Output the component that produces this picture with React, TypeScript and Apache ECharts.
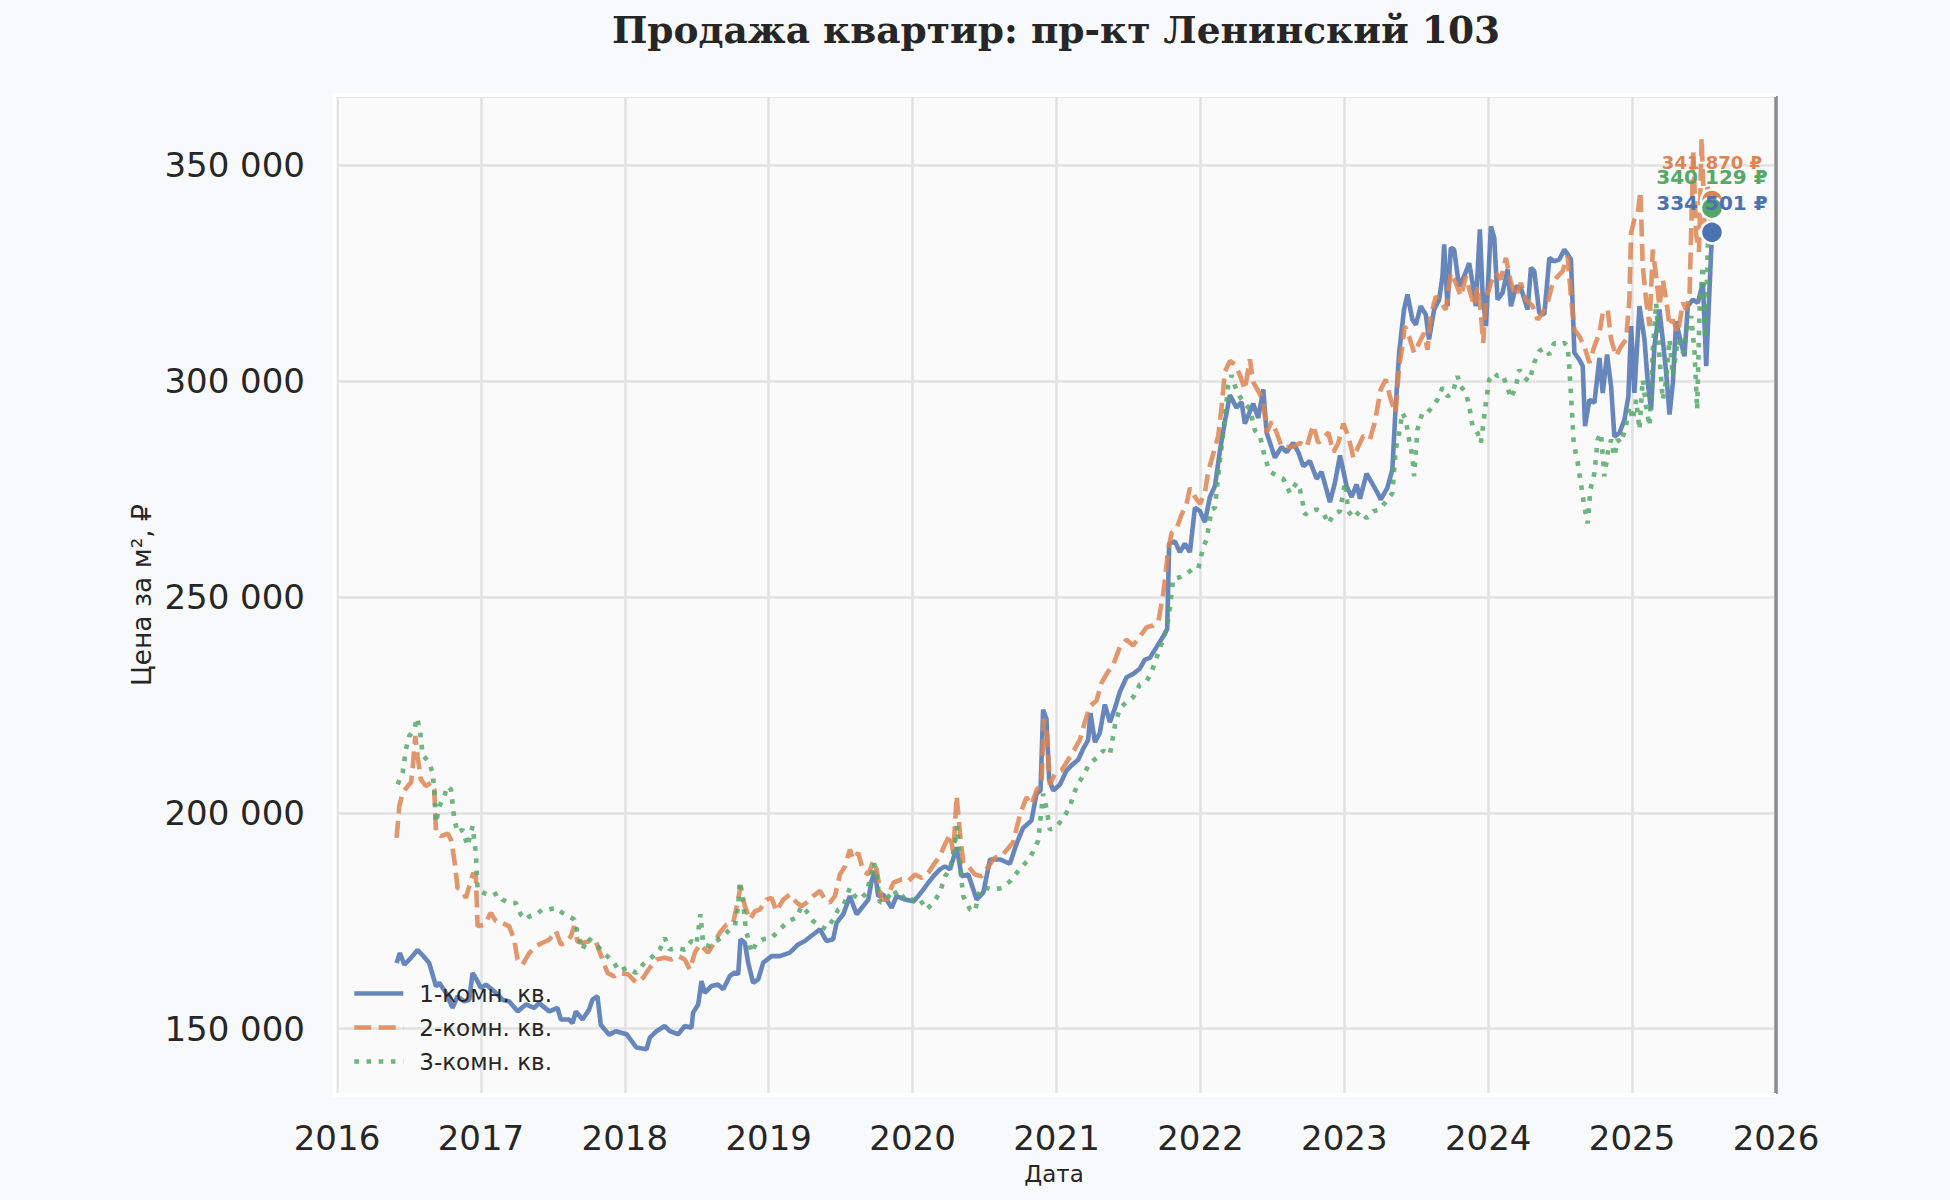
import * as echarts from 'echarts'
import React, { useEffect, useRef } from 'react'

const seriesNames = ['1-комн. кв.', '2-комн. кв.', '3-комн. кв.']
const colors = ['#4c72b0', '#dd8452', '#55a868']

// [год (дробный), цена за м²]
const oneRoom: [number, number][] = [
  [2016.414, 165200], [2016.437, 167500], [2016.468, 164800], [2016.514, 166400],
  [2016.56, 168200], [2016.595, 167000], [2016.641, 165200], [2016.688, 159800],
  [2016.711, 160600], [2016.757, 158300], [2016.803, 154800], [2016.838, 157500],
  [2016.884, 156300], [2016.919, 156700], [2016.942, 162900], [2016.965, 161700],
  [2017.0, 159400], [2017.035, 160200], [2017.104, 158300], [2017.15, 156700],
  [2017.197, 156300], [2017.255, 154000], [2017.313, 155600], [2017.37, 154800],
  [2017.405, 155900], [2017.475, 154000], [2017.532, 154800], [2017.556, 152100],
  [2017.613, 152100], [2017.637, 151300], [2017.66, 154000], [2017.706, 152100],
  [2017.752, 154400], [2017.775, 156700], [2017.81, 157500], [2017.833, 150900],
  [2017.891, 148600], [2017.938, 149400], [2018.012, 148700], [2018.081, 145600],
  [2018.151, 145200], [2018.174, 147900], [2018.22, 149400], [2018.278, 150600],
  [2018.313, 149400], [2018.371, 148700], [2018.417, 150600], [2018.463, 150200],
  [2018.475, 153700], [2018.51, 155600], [2018.533, 161000], [2018.556, 158300],
  [2018.603, 159900], [2018.649, 160200], [2018.684, 159100], [2018.73, 162200],
  [2018.765, 163000], [2018.788, 162600], [2018.804, 170700], [2018.834, 169900],
  [2018.857, 165300], [2018.892, 160600], [2018.927, 161400], [2018.962, 165300],
  [2019.02, 166800], [2019.078, 166800], [2019.147, 167600], [2019.205, 169500],
  [2019.251, 170300], [2019.309, 171800], [2019.356, 173000], [2019.402, 170300],
  [2019.448, 170700], [2019.472, 174500], [2019.518, 176500], [2019.564, 180700],
  [2019.611, 176500], [2019.657, 178400], [2019.692, 179900], [2019.715, 184200],
  [2019.738, 186500], [2019.761, 180700], [2019.796, 181100], [2019.854, 178000],
  [2019.889, 180700], [2019.947, 179900], [2020.005, 179500], [2020.039, 180700],
  [2020.074, 182200], [2020.109, 183800], [2020.155, 185700], [2020.19, 186900],
  [2020.225, 187600], [2020.26, 186900], [2020.306, 192000], [2020.341, 185300],
  [2020.387, 185700], [2020.445, 179900], [2020.491, 181500], [2020.538, 189200],
  [2020.607, 189200], [2020.676, 188200], [2020.722, 192800], [2020.768, 196500],
  [2020.826, 198200], [2020.861, 204400], [2020.889, 205200], [2020.907, 223900],
  [2020.93, 221800], [2020.949, 207700], [2020.977, 205200], [2021.023, 206500],
  [2021.07, 209800], [2021.104, 211000], [2021.151, 212300], [2021.185, 214800],
  [2021.22, 216900], [2021.236, 223100], [2021.267, 216400], [2021.301, 218500],
  [2021.336, 225100], [2021.371, 221000], [2021.406, 224300], [2021.44, 228000],
  [2021.487, 231400], [2021.533, 232200], [2021.579, 233400], [2021.614, 235500],
  [2021.649, 235900], [2021.695, 238400], [2021.742, 240900], [2021.769, 242600],
  [2021.783, 262400], [2021.823, 262900], [2021.857, 260400], [2021.892, 262400],
  [2021.927, 260400], [2021.962, 270700], [2021.997, 269900], [2022.031, 267400],
  [2022.066, 273200], [2022.101, 275700], [2022.136, 284000], [2022.17, 290600],
  [2022.205, 296800], [2022.251, 293900], [2022.286, 295200], [2022.309, 290200],
  [2022.367, 294800], [2022.402, 291500], [2022.437, 298100], [2022.46, 288100],
  [2022.518, 282300], [2022.564, 284800], [2022.599, 283600], [2022.645, 285700],
  [2022.68, 283600], [2022.715, 280300], [2022.761, 281500], [2022.808, 277400],
  [2022.842, 279000], [2022.9, 272000], [2022.935, 276500], [2022.97, 282800],
  [2023.016, 275700], [2023.051, 273200], [2023.086, 276100], [2023.109, 272800],
  [2023.155, 278600], [2023.225, 274500], [2023.253, 272600], [2023.299, 275300],
  [2023.334, 279500], [2023.357, 294200], [2023.381, 306600], [2023.415, 316600],
  [2023.439, 320100], [2023.473, 314300], [2023.497, 313100], [2023.531, 317400],
  [2023.566, 315500], [2023.589, 309700], [2023.624, 316600], [2023.659, 318900],
  [2023.682, 324300], [2023.694, 331700], [2023.717, 317400], [2023.74, 330900],
  [2023.763, 330500], [2023.798, 322000], [2023.833, 324300], [2023.868, 327400],
  [2023.891, 322800], [2023.914, 317400], [2023.942, 335200], [2023.961, 320500],
  [2023.984, 312800], [2024.019, 335900], [2024.042, 333200], [2024.065, 318900],
  [2024.1, 320500], [2024.135, 325900], [2024.158, 317400], [2024.193, 322000],
  [2024.227, 321600], [2024.274, 316600], [2024.297, 326300], [2024.32, 325500],
  [2024.355, 315800], [2024.39, 315500], [2024.425, 328600], [2024.459, 327800],
  [2024.494, 328200], [2024.529, 330500], [2024.552, 329400], [2024.575, 328200],
  [2024.599, 306600], [2024.633, 305000], [2024.657, 303500], [2024.673, 289600],
  [2024.703, 295700], [2024.738, 295000], [2024.773, 305400], [2024.796, 297300],
  [2024.826, 306200], [2024.854, 298800], [2024.877, 287200], [2024.912, 288000],
  [2024.947, 291100], [2024.974, 296500], [2024.993, 312800], [2025.016, 297300],
  [2025.051, 317400], [2025.086, 309700], [2025.109, 299600], [2025.132, 293400],
  [2025.155, 308100], [2025.19, 316600], [2025.213, 309700], [2025.237, 301900],
  [2025.26, 292300], [2025.283, 299600], [2025.306, 313900], [2025.329, 310400],
  [2025.364, 305800], [2025.387, 317400], [2025.422, 318900], [2025.457, 318200],
  [2025.492, 322800], [2025.515, 303500], [2025.555, 334501],
]

const twoRoom: [number, number][] = [
  [2016.414, 194200], [2016.433, 201500], [2016.456, 204600], [2016.491, 206200],
  [2016.514, 207000], [2016.525, 210000], [2016.544, 217800], [2016.56, 213100],
  [2016.583, 207700], [2016.618, 206200], [2016.653, 207000], [2016.676, 205400],
  [2016.688, 195400], [2016.722, 194600], [2016.769, 195200], [2016.792, 193800],
  [2016.815, 189200], [2016.838, 182600], [2016.861, 182200], [2016.896, 180300],
  [2016.919, 183000], [2016.947, 186100], [2016.965, 185300], [2016.977, 173700],
  [2017.023, 174100], [2017.069, 176800], [2017.104, 174900], [2017.15, 174500],
  [2017.197, 173700], [2017.231, 170600], [2017.255, 166000], [2017.289, 164800],
  [2017.336, 167500], [2017.382, 169100], [2017.428, 169900], [2017.475, 170600],
  [2017.521, 172600], [2017.556, 169500], [2017.59, 169900], [2017.625, 171400],
  [2017.648, 173700], [2017.671, 170200], [2017.706, 169900], [2017.752, 170200],
  [2017.799, 170200], [2017.845, 166000], [2017.88, 162900], [2017.926, 162100],
  [2017.961, 162900], [2018.023, 162600], [2018.081, 160600], [2018.127, 161800],
  [2018.174, 164100], [2018.22, 166000], [2018.278, 166400], [2018.324, 166000],
  [2018.371, 166800], [2018.417, 166000], [2018.452, 163700], [2018.487, 167600],
  [2018.521, 169500], [2018.579, 167600], [2018.614, 169500], [2018.66, 172200],
  [2018.707, 174100], [2018.753, 174500], [2018.788, 179900], [2018.804, 183000],
  [2018.834, 178400], [2018.869, 175300], [2018.904, 177200], [2018.939, 177600],
  [2018.985, 179900], [2019.02, 180300], [2019.054, 177200], [2019.101, 179900],
  [2019.147, 181100], [2019.194, 179200], [2019.228, 178400], [2019.263, 179200],
  [2019.309, 180700], [2019.356, 181900], [2019.391, 179900], [2019.425, 179200],
  [2019.46, 180700], [2019.495, 185700], [2019.53, 187600], [2019.564, 191500],
  [2019.587, 189200], [2019.622, 190700], [2019.657, 186500], [2019.692, 185700],
  [2019.727, 188800], [2019.75, 186900], [2019.784, 179900], [2019.819, 179900],
  [2019.866, 183800], [2019.924, 184600], [2019.97, 184200], [2020.016, 185700],
  [2020.063, 184900], [2020.109, 186100], [2020.155, 188400], [2020.19, 190000],
  [2020.225, 192700], [2020.26, 195000], [2020.283, 190700], [2020.306, 203900],
  [2020.329, 195400], [2020.352, 188400], [2020.387, 187600], [2020.433, 185700],
  [2020.48, 185300], [2020.526, 187600], [2020.572, 189600], [2020.619, 190000],
  [2020.699, 193200], [2020.745, 199400], [2020.791, 203600], [2020.826, 201900],
  [2020.861, 205200], [2020.896, 206900], [2020.912, 221800], [2020.935, 217700],
  [2020.954, 206500], [2020.988, 209000], [2021.035, 209800], [2021.081, 212300],
  [2021.127, 214800], [2021.162, 216900], [2021.197, 221000], [2021.232, 224700],
  [2021.278, 226000], [2021.313, 230100], [2021.348, 232200], [2021.394, 234300],
  [2021.44, 238400], [2021.487, 240100], [2021.533, 238800], [2021.579, 240900],
  [2021.626, 243000], [2021.672, 243400], [2021.707, 244200], [2021.742, 250800],
  [2021.776, 260800], [2021.8, 264900], [2021.834, 265800], [2021.869, 269100],
  [2021.904, 271600], [2021.927, 275300], [2021.962, 273200], [2021.997, 271600],
  [2022.031, 274100], [2022.054, 279000], [2022.089, 283200], [2022.124, 287300],
  [2022.147, 293900], [2022.17, 302200], [2022.205, 304700], [2022.24, 303900],
  [2022.275, 301400], [2022.309, 298100], [2022.344, 305100], [2022.367, 299800],
  [2022.402, 297700], [2022.437, 295600], [2022.46, 288100], [2022.495, 290600],
  [2022.53, 288100], [2022.564, 284800], [2022.599, 284800], [2022.645, 284800],
  [2022.692, 285700], [2022.738, 284800], [2022.784, 289800], [2022.819, 285700],
  [2022.854, 286900], [2022.889, 288100], [2022.924, 283600], [2022.958, 285700],
  [2022.993, 290200], [2023.028, 287300], [2023.063, 282300], [2023.097, 284800],
  [2023.132, 287300], [2023.178, 286500], [2023.213, 290600], [2023.253, 298100],
  [2023.288, 300400], [2023.323, 295700], [2023.357, 292700], [2023.381, 303500],
  [2023.404, 308100], [2023.42, 312800], [2023.45, 310400], [2023.485, 306600],
  [2023.52, 308900], [2023.555, 311200], [2023.578, 307300], [2023.601, 315100],
  [2023.636, 319700], [2023.671, 318200], [2023.705, 316600], [2023.74, 325100],
  [2023.775, 322800], [2023.81, 319700], [2023.845, 324300], [2023.868, 321300],
  [2023.903, 317400], [2023.926, 322000], [2023.949, 315800], [2023.965, 308900],
  [2023.984, 318900], [2024.019, 322800], [2024.053, 325100], [2024.088, 323600],
  [2024.123, 328600], [2024.158, 322800], [2024.193, 319700], [2024.227, 322800],
  [2024.262, 318900], [2024.309, 317400], [2024.343, 314300], [2024.378, 315800],
  [2024.413, 318200], [2024.448, 322800], [2024.483, 324300], [2024.517, 325500],
  [2024.552, 329000], [2024.575, 319700], [2024.599, 312000], [2024.633, 310400],
  [2024.668, 308100], [2024.703, 304300], [2024.738, 308100], [2024.773, 311200],
  [2024.796, 315800], [2024.831, 316600], [2024.854, 309700], [2024.889, 305800],
  [2024.923, 308100], [2024.958, 309700], [2024.981, 318900], [2024.993, 334400],
  [2025.016, 337500], [2025.039, 339000], [2025.058, 344000], [2025.074, 326700],
  [2025.097, 318900], [2025.121, 312800], [2025.144, 330500], [2025.167, 324300],
  [2025.19, 317400], [2025.213, 323600], [2025.237, 318900], [2025.26, 312800],
  [2025.283, 314300], [2025.318, 311200], [2025.353, 318200], [2025.376, 316600],
  [2025.399, 319700], [2025.425, 353600], [2025.445, 334000], [2025.465, 330000],
  [2025.483, 356300], [2025.505, 335000], [2025.525, 345000], [2025.555, 341870],
]

const threeRoom: [number, number][] = [
  [2016.421, 206600], [2016.456, 209300], [2016.479, 214700], [2016.502, 217800],
  [2016.537, 219300], [2016.556, 222000], [2016.576, 219300], [2016.595, 213500],
  [2016.641, 211600], [2016.664, 209300], [2016.676, 205400], [2016.688, 197700],
  [2016.711, 201500], [2016.745, 203900], [2016.769, 206200], [2016.792, 205400],
  [2016.815, 198500], [2016.838, 195400], [2016.873, 196100], [2016.907, 192300],
  [2016.942, 196900], [2016.965, 190700], [2016.977, 182200], [2017.023, 181400],
  [2017.069, 180700], [2017.116, 181400], [2017.15, 179900], [2017.197, 179100],
  [2017.243, 179100], [2017.278, 176400], [2017.313, 175300], [2017.336, 176000],
  [2017.382, 176400], [2017.428, 177600], [2017.475, 177600], [2017.521, 178000],
  [2017.567, 176800], [2017.613, 176000], [2017.648, 175300], [2017.671, 172200],
  [2017.706, 168300], [2017.741, 171000], [2017.787, 169900], [2017.822, 168700],
  [2017.868, 167100], [2017.926, 165200], [2017.961, 163300], [2018.012, 164100],
  [2018.081, 162900], [2018.127, 164900], [2018.197, 166800], [2018.243, 168300],
  [2018.278, 171000], [2018.313, 168300], [2018.359, 168700], [2018.417, 168300],
  [2018.463, 170300], [2018.498, 169500], [2018.526, 176500], [2018.545, 169500],
  [2018.591, 169100], [2018.637, 170300], [2018.684, 171400], [2018.73, 173000],
  [2018.765, 173800], [2018.788, 178400], [2018.8, 184200], [2018.823, 179200],
  [2018.841, 173000], [2018.881, 167600], [2018.915, 169900], [2018.962, 170700],
  [2019.02, 171000], [2019.078, 173000], [2019.136, 174900], [2019.194, 175700],
  [2019.228, 178400], [2019.263, 177200], [2019.309, 174900], [2019.356, 173800],
  [2019.402, 173000], [2019.448, 175300], [2019.483, 177600], [2019.518, 178400],
  [2019.564, 182600], [2019.599, 180700], [2019.634, 179900], [2019.68, 181500],
  [2019.715, 186100], [2019.731, 188400], [2019.75, 185700], [2019.773, 179200],
  [2019.819, 179900], [2019.866, 182200], [2019.912, 179900], [2019.958, 181100],
  [2020.005, 179500], [2020.051, 179900], [2020.097, 177600], [2020.144, 179200],
  [2020.19, 181500], [2020.225, 185300], [2020.26, 186900], [2020.283, 190700],
  [2020.311, 196900], [2020.329, 187600], [2020.352, 180700], [2020.399, 177600],
  [2020.433, 177200], [2020.468, 182200], [2020.515, 182600], [2020.561, 182200],
  [2020.619, 182600], [2020.676, 184100], [2020.745, 187000], [2020.815, 189500],
  [2020.873, 193600], [2020.907, 204400], [2020.93, 201100], [2020.954, 196100],
  [2021.0, 196900], [2021.046, 198600], [2021.093, 201500], [2021.139, 206100],
  [2021.185, 208600], [2021.232, 211500], [2021.278, 212700], [2021.324, 214400],
  [2021.371, 213500], [2021.406, 220200], [2021.44, 224300], [2021.487, 225600],
  [2021.533, 226800], [2021.579, 229700], [2021.626, 230500], [2021.66, 232600],
  [2021.695, 235900], [2021.73, 239200], [2021.765, 242600], [2021.788, 247500],
  [2021.811, 254200], [2021.857, 254600], [2021.904, 255400], [2021.95, 256600],
  [2021.985, 256600], [2022.02, 261600], [2022.043, 263300], [2022.078, 270300],
  [2022.101, 270700], [2022.124, 278200], [2022.147, 284800], [2022.17, 291500],
  [2022.193, 298900], [2022.217, 301400], [2022.24, 298900], [2022.275, 296400],
  [2022.309, 294800], [2022.344, 293500], [2022.379, 288600], [2022.414, 287300],
  [2022.448, 282300], [2022.483, 279000], [2022.53, 278200], [2022.576, 277400],
  [2022.622, 274100], [2022.669, 276500], [2022.692, 274900], [2022.727, 269100],
  [2022.761, 269900], [2022.808, 270300], [2022.854, 269500], [2022.889, 267000],
  [2022.924, 269100], [2022.97, 269900], [2023.005, 276500], [2023.028, 269900],
  [2023.063, 268300], [2023.109, 269900], [2023.155, 268300], [2023.202, 269900],
  [2023.248, 270300], [2023.299, 272600], [2023.334, 274100], [2023.357, 284200],
  [2023.381, 288000], [2023.404, 292700], [2023.427, 291100], [2023.45, 286500],
  [2023.473, 282600], [2023.485, 278000], [2023.508, 288800], [2023.543, 292700],
  [2023.578, 292700], [2023.613, 294200], [2023.647, 295700], [2023.682, 298500],
  [2023.717, 296500], [2023.752, 297300], [2023.787, 301200], [2023.81, 298800],
  [2023.845, 297300], [2023.868, 294200], [2023.891, 289600], [2023.926, 288000],
  [2023.949, 285700], [2023.961, 288800], [2023.984, 295000], [2024.007, 300400],
  [2024.042, 301900], [2024.065, 301200], [2024.1, 301500], [2024.135, 298500],
  [2024.158, 296100], [2024.193, 298800], [2024.216, 302700], [2024.251, 300800],
  [2024.285, 300000], [2024.32, 304300], [2024.355, 307000], [2024.39, 307700],
  [2024.425, 306200], [2024.459, 308900], [2024.494, 308500], [2024.529, 308900],
  [2024.552, 308100], [2024.564, 303100], [2024.58, 294200], [2024.594, 285700],
  [2024.622, 281100], [2024.64, 277200], [2024.668, 271000], [2024.691, 267100],
  [2024.71, 274900], [2024.738, 278700], [2024.761, 286500], [2024.784, 288000],
  [2024.807, 278000], [2024.831, 283400], [2024.854, 286500], [2024.877, 282600],
  [2024.9, 286500], [2024.923, 285700], [2024.958, 289600], [2024.981, 294200],
  [2025.005, 291100], [2025.028, 295700], [2025.051, 288800], [2025.074, 300400],
  [2025.097, 294200], [2025.121, 289600], [2025.144, 307300], [2025.167, 318200],
  [2025.19, 305800], [2025.213, 295700], [2025.237, 300400], [2025.26, 309700],
  [2025.283, 301200], [2025.318, 309700], [2025.353, 306600], [2025.376, 311200],
  [2025.411, 315100], [2025.434, 306600], [2025.452, 293400], [2025.469, 316600],
  [2025.492, 326700], [2025.508, 310000], [2025.527, 332000], [2025.555, 340129],
]

const lastDate = 2025.555
const lastPrices = [334501, 341870, 340129]

const FONT = "'DejaVu Sans', sans-serif"
const TEXT = '#262626'
const LW = 4.6

function withSpaces(v: number) {
  return String(Math.round(v)).replace(/\B(?=(\d{3})+(?!\d))/g, ' ')
}

export default function App() {
  const chartRef = useRef(null)

  useEffect(() => {
    let chartInstance = echarts.init(chartRef.current, null, { renderer: 'svg' })

    const lineData = [oneRoom, twoRoom, threeRoom]
    const dashes: any[] = ['solid', [17, 7.4], [4.6, 7.6]]
    const labelSizes = [20, 18, 20]
    const labelDistances = [7, 17, 9]

    const lineSeries = lineData.map((data, i) => ({
      name: seriesNames[i],
      type: 'line',
      data: data,
      symbol: 'none',
      color: colors[i],
      lineStyle: {
        width: LW,
        color: colors[i],
        opacity: 0.85,
        type: dashes[i],
        cap: 'butt',
      },
      z: 2,
      ...(i === 0
        ? {
            markLine: {
              silent: true,
              symbol: ['none', 'none'],
              label: { show: false },
              lineStyle: { color: '#8c8c8c', width: 3.5, type: 'solid', opacity: 1 },
              data: [{ xAxis: 2026 }],
            },
          }
        : {}),
    }))

    // маркеры последних значений: оранжевый, зелёный, синий
    const lastSeries = [1, 2, 0].map((i) => ({
      name: 'last-' + i,
      type: 'scatter',
      data: [[lastDate, lastPrices[i]]],
      symbol: 'circle',
      symbolSize: 22,
      itemStyle: { color: colors[i], borderColor: '#ffffff', borderWidth: 2.5, opacity: 1 },
      label: {
        show: true,
        position: 'top',
        distance: labelDistances[i],
        formatter: (p: any) => withSpaces(p.value[1]) + ' ₽',
        color: colors[i],
        fontFamily: FONT,
        fontWeight: 'bold',
        fontSize: labelSizes[i],
      },
      z: 5,
    }))

    let option = {
      animation: false,
      backgroundColor: '#f8f9fb',
      grid: {
        left: 337,
        right: 174,
        top: 96,
        bottom: 106,
        show: true,
        backgroundColor: '#fafafa',
        borderWidth: 0,
      },
      legend: {
        data: seriesNames,
        orient: 'vertical',
        left: 352,
        top: 982,
        padding: 0,
        itemWidth: 49,
        itemHeight: 14,
        itemGap: 11,
        selectedMode: false,
        itemStyle: { opacity: 0 },
        lineStyle: { width: LW, opacity: 0.85 },
        textStyle: {
          fontFamily: FONT,
          fontSize: 23,
          color: TEXT,
          padding: [0, 0, 0, 11],
        },
      },
      xAxis: {
        type: 'value',
        min: 2016,
        max: 2026,
        interval: 1,
        axisLine: { show: false },
        axisTick: { show: false },
        axisLabel: {
          color: TEXT,
          fontFamily: FONT,
          fontSize: 34,
          margin: 27,
          formatter: (v: number) => String(v),
        },
        splitLine: { show: true, lineStyle: { color: '#e2e2e2', width: 2.5 } },
      },
      yAxis: {
        type: 'value',
        min: 134850,
        max: 366100,
        axisLine: { show: false },
        axisTick: { show: false },
        axisLabel: {
          color: TEXT,
          fontFamily: FONT,
          fontSize: 34,
          margin: 32,
          showMinLabel: false,
          showMaxLabel: false,
          formatter: (v: number) => (v % 50000 === 0 ? withSpaces(v) : ''),
        },
        splitLine: { show: true, lineStyle: { color: '#e2e2e2', width: 2.5 } },
      },
      graphic: [
        {
          type: 'polyline',
          z: 100,
          silent: true,
          shape: { points: [[1776, 95], [334.5, 95], [334.5, 1095], [1776, 1095]] },
          style: { stroke: '#ffffff', lineWidth: 4, fill: 'none' },
        },
        {
          type: 'text',
          x: 1056,
          y: 30,
          style: {
            text: 'Продажа квартир: пр-кт Ленинский 103',
            textAlign: 'center',
            textVerticalAlign: 'middle',
            fontFamily: "'DejaVu Serif', serif",
            fontWeight: 'bold',
            fontSize: 37.5,
            fill: TEXT,
          },
        },
        {
          type: 'text',
          x: 141,
          y: 595,
          rotation: Math.PI / 2,
          style: {
            text: 'Цена за м², ₽',
            textAlign: 'center',
            textVerticalAlign: 'middle',
            fontFamily: FONT,
            fontSize: 26.5,
            fill: TEXT,
          },
        },
        {
          type: 'text',
          x: 1054,
          y: 1174,
          style: {
            text: 'Дата',
            textAlign: 'center',
            textVerticalAlign: 'middle',
            fontFamily: FONT,
            fontSize: 23,
            fill: TEXT,
          },
        },
      ],
      series: [...lineSeries, ...lastSeries],
    }

    chartInstance.setOption(option)

    return () => {
      chartInstance.dispose()
    }
  }, [])

  return (
    <div
      ref={chartRef}
      style={{ position: 'absolute', left: 0, top: 0, width: '1950px', height: '1200px' }}
    />
  )
}
